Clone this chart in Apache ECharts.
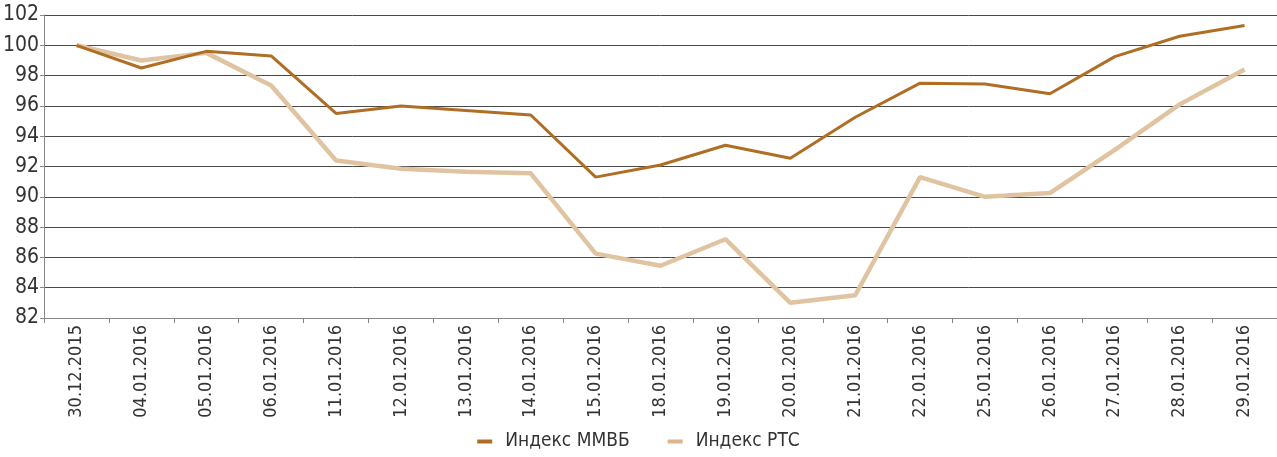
<!DOCTYPE html>
<html>
<head>
<meta charset="utf-8">
<script src="https://cdn.jsdelivr.net/npm/echarts@6/dist/echarts.min.js"></script>
<style>
  html, body { margin: 0; padding: 0; background: #fff; }
  #chart { width: 1277px; height: 457px; }
</style>
</head>
<body>
<div id="chart"></div>
<script>
const dates = ['30.12.2015', '04.01.2016', '05.01.2016', '06.01.2016', '11.01.2016', '12.01.2016',
  '13.01.2016', '14.01.2016', '15.01.2016', '18.01.2016', '19.01.2016', '20.01.2016', '21.01.2016',
  '22.01.2016', '25.01.2016', '26.01.2016', '27.01.2016', '28.01.2016', '29.01.2016']
const micex = [100, 98.5, 99.6, 99.3, 95.5, 96.0, 95.7, 95.4, 91.3, 92.1, 93.4, 92.55, 95.25,
  97.5, 97.45, 96.8, 99.25, 100.6, 101.3]
const rts = [100, 99.0, 99.5, 97.35, 92.4, 91.85, 91.65, 91.55, 86.25, 85.45, 87.2, 83.0, 83.5,
  91.3, 90.0, 90.25, 93.1, 96.1, 98.4]
const names = ['Индекс ММВБ', 'Индекс РТС']

const font = '"Liberation Sans Narrow", "DejaVu Sans Condensed", "Liberation Sans", sans-serif'

const myChart = echarts.init(document.getElementById('chart'))
myChart.setOption({
  animation: false,
  textStyle: { fontFamily: font },
  grid: { left: 44, right: 0, top: 15, bottom: 139 },
  legend: {
    bottom: 1,
    left: 'center',
    itemGap: 38,
    itemWidth: 15,
    itemHeight: 4,
    icon: 'rect',
    textStyle: { fontFamily: font, fontSize: 19, color: '#333', padding: [0, 0, 0, 8] },
    data: names
  },
  xAxis: {
    type: 'category',
    data: dates,
    boundaryGap: true,
    axisLine: { lineStyle: { color: '#888', width: 1 } },
    axisTick: { show: true, alignWithLabel: false, length: 5, lineStyle: { color: '#888' } },
    axisLabel: { rotate: 90, interval: 0, fontSize: 18, color: '#333', margin: 7, fontFamily: font }
  },
  yAxis: {
    type: 'value',
    min: 82,
    max: 102,
    interval: 2,
    axisLine: { show: true, lineStyle: { color: '#888' } },
    axisTick: { show: true, length: 4, lineStyle: { color: '#888' } },
    axisLabel: { fontSize: 21, color: '#333', margin: 5, fontFamily: font },
    splitLine: { lineStyle: { color: '#4a4a4a', width: 1 } }
  },
  series: [
    {
      name: names[0],
      type: 'line',
      data: micex,
      symbol: 'none',
      z: 3,
      lineStyle: { color: '#b06e24', width: 3 },
      itemStyle: { color: '#b06e24' }
    },
    {
      name: names[1],
      type: 'line',
      data: rts,
      symbol: 'none',
      z: 2,
      lineStyle: { color: '#e0c4a2', width: 4.5 },
      itemStyle: { color: '#d9b48c' }
    }
  ]
})
</script>
</body>
</html>
